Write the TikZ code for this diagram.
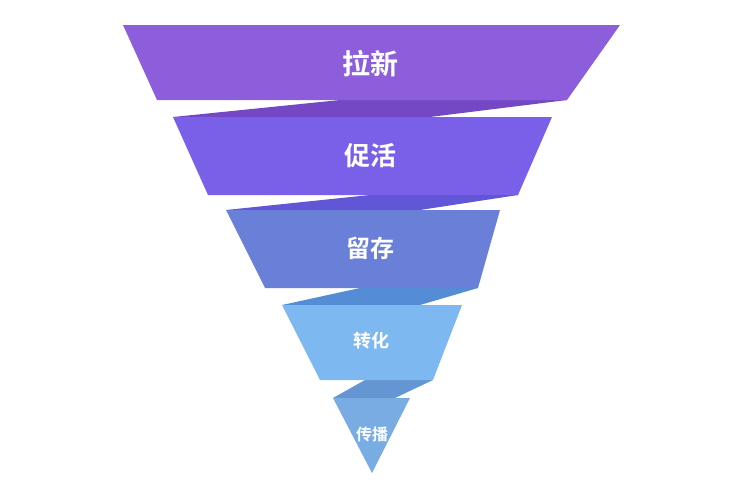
\documentclass[tikz,border=0pt]{standalone}
\usepackage{fontspec}
\newfontfamily\cjk{Noto Sans CJK SC Bold}
\begin{document}
\begin{tikzpicture}[x=1pt,y=-1pt,
  lbl/.style={text=white,font=\cjk}]
\useasboundingbox (0,0) rectangle (738,482);
% ribbons
\fill[fill={rgb,255:red,116;green,72;blue,196}] (173,117) -- (340,100) -- (567,100) -- (430,117) -- cycle;
\fill[fill={rgb,255:red,96;green,86;blue,214}] (226,210) -- (370,195) -- (518,195) -- (420,210) -- cycle;
\fill[fill={rgb,255:red,84;green,140;blue,214}] (282,305) -- (360,288) -- (478,288) -- (420,305) -- cycle;
\fill[fill={rgb,255:red,100;green,150;blue,212}] (333,398) -- (365,380) -- (433,380) -- (395,398) -- cycle;
% bands
\fill[fill={rgb,255:red,140;green,94;blue,219}] (123,25) -- (620,25) -- (567,100) -- (157,100) -- cycle;
\fill[fill={rgb,255:red,122;green,96;blue,232}] (173,117) -- (552,117) -- (518,195) -- (208,195) -- cycle;
\fill[fill={rgb,255:red,106;green,128;blue,216}] (226,210) -- (500,210) -- (478,288) -- (265,288) -- cycle;
\fill[fill={rgb,255:red,126;green,184;blue,240}] (282,305) -- (462,305) -- (433,380) -- (320,380) -- cycle;
\fill[fill={rgb,255:red,122;green,172;blue,228}] (333,398) -- (410,398) -- (372,473) -- cycle;
% labels
\node[lbl,font=\cjk\fontsize{28}{28}\selectfont] (t1) at (370,64) {拉新};
\node[lbl,font=\cjk\fontsize{26}{26}\selectfont] (t2) at (370,156) {促活};
\node[lbl,font=\cjk\fontsize{24}{24}\selectfont] (t3) at (370,248) {留存};
\node[lbl,font=\cjk\fontsize{18}{18}\selectfont] (t4) at (371,341) {转化};
\node[lbl,font=\cjk\fontsize{16}{16}\selectfont] (t5) at (372,434) {传播};
\end{tikzpicture}
\end{document}
